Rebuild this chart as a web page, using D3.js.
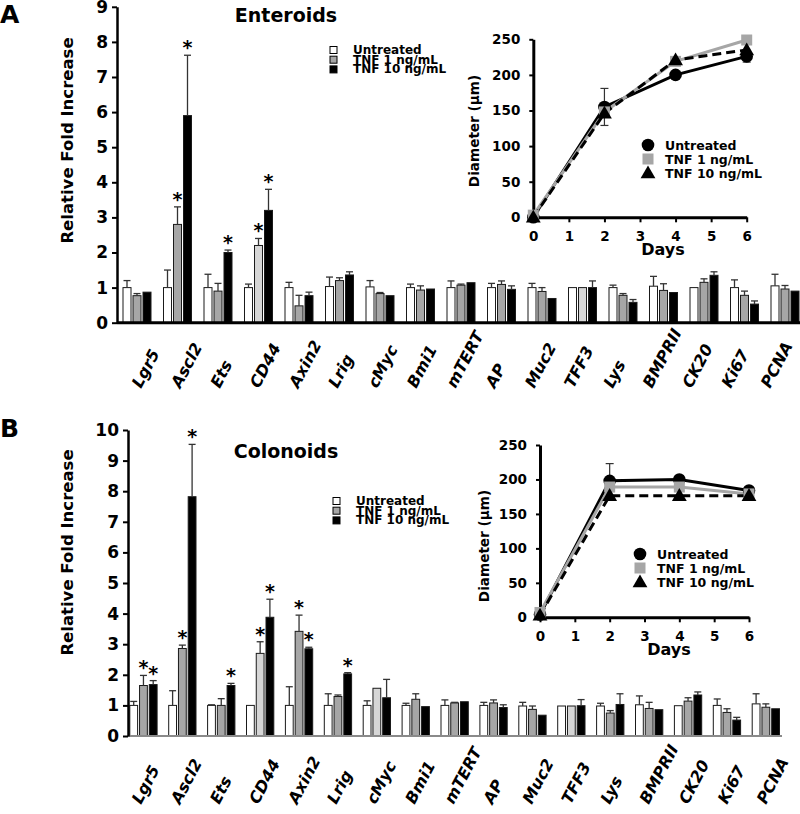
<!DOCTYPE html>
<html><head><meta charset="utf-8">
<script src="https://cdn.jsdelivr.net/npm/d3@7"></script>
<style>
body{margin:0;background:#fff;}
svg{display:block;font-family:"DejaVu Sans",sans-serif;font-weight:bold;}
</style></head><body>
<svg id="c" width="800" height="814"></svg>
<script>
// ---------- data ----------
const genes = ["Lgr5","Ascl2","Ets","CD44","Axin2","Lrig","cMyc","Bmi1","mTERT","AP","Muc2","TFF3","Lys","BMPRII","CK20","Ki67","PCNA"];
const seriesNames = ["Untreated","TNF 1 ng/mL","TNF 10 ng/mL"];
const yTicksEnt = [0,1,2,3,4,5,6,7,8,9];
const yTicksCol = [0,1,2,3,4,5,6,7,8,9,10];

// Enteroids (relative fold increase, bar value and top of error bar)
const entUntreated    = [1.0,1.0,1.0,1.0,1.0,1.03,1.02,1.0,1.0,1.0,1.0,1.0,1.0,1.04,1.0,1.0,1.05];
const entUntreatedErr = [1.2,1.5,1.38,1.1,1.15,1.3,1.2,1.1,1.19,1.12,1.12,null,1.07,1.32,null,1.22,1.38];
const entTnf1         = [0.77,2.8,0.9,2.2,0.48,1.2,0.83,0.93,1.07,1.09,0.89,1.0,0.78,0.92,1.15,0.78,0.96];
const entTnf1Err      = [0.83,3.3,1.12,2.4,0.78,1.28,0.86,1.05,1.1,1.19,1.0,null,0.83,1.11,1.25,0.9,1.06];
const entTnf10        = [0.87,5.9,2.0,3.2,0.77,1.36,0.77,0.96,1.14,0.95,0.69,1.0,0.58,0.86,1.35,0.53,0.9];
const entTnf10Err     = [null,7.62,2.07,3.8,0.87,1.45,null,null,null,1.05,null,1.19,0.66,null,1.45,0.62,null];
const entStarsTnf1    = ["Ascl2","CD44"];
const entStarsTnf10   = ["Ascl2","Ets","CD44"];

// Colonoids
const colUntreated    = [1.0,1.0,1.0,1.0,1.0,1.0,1.0,1.0,1.0,1.0,0.98,0.98,0.98,1.02,0.99,1.0,1.05];
const colUntreatedErr = [1.13,1.48,1.02,null,1.61,1.38,1.15,1.07,1.18,1.1,1.1,null,1.07,1.31,null,1.21,1.38];
const colTnf1         = [1.65,2.86,1.0,2.7,3.42,1.29,1.56,1.2,1.08,1.08,0.87,0.98,0.75,0.9,1.14,0.77,0.94];
const colTnf1Err      = [1.98,2.97,1.22,3.08,3.95,1.34,null,1.38,1.1,1.18,0.98,null,0.83,1.1,1.25,0.89,1.05];
const colTnf10        = [1.68,7.82,1.65,3.88,2.85,2.03,1.25,0.96,1.12,0.93,0.68,0.99,1.03,0.86,1.34,0.52,0.89];
const colTnf10Err     = [1.81,9.53,1.72,4.47,2.9,2.07,1.85,null,null,1.02,null,1.19,1.38,null,1.44,0.61,null];
const colStarsTnf1    = ["Lgr5","Ascl2","CD44","Axin2"];
const colStarsTnf10   = ["Lgr5","Ascl2","Ets","CD44","Axin2","Lrig"];

// Insets: diameter (µm) over days
const days = [0,2,4,6];
const dayTicks = [0,1,2,3,4,5,6];
const diamTicks = [0,50,100,150,200,250];
const entDiamUntreated    = [0,155,200,226];
const entDiamUntreatedErr = [0,26,0,8];
const entDiamTnf1         = [3,148,219,249];
const entDiamTnf10        = [0,146,221,235];
const colDiamUntreated    = [4,198,200,184];
const colDiamUntreatedErr = [0,25,0,5];
const colDiamTnf1         = [7,189,189,179];
const colDiamTnf10        = [3,176.5,176.5,176.5];

// ---------- drawing ----------
const svg = d3.select("#c");
const barFills = ["#ffffff","#a6a6a6","#000000"];
const lightGrey = "#d6d6d6";

function barPanel(cfg){
  const g = svg.append("g");
  const x0 = d3.scaleBand().domain(genes).range(cfg.xRange);
  const x1 = d3.scaleBand().domain(seriesNames)
    .range([(x0.step()-cfg.groupW)/2,(x0.step()+cfg.groupW)/2]).paddingInner(0.2);
  const y = d3.scaleLinear().domain([0,cfg.yMax]).range([cfg.y0,cfg.yTop]);
  const xl = d3.scalePoint().domain(genes).range(cfg.labelRange);

  cfg.series.forEach((s,si)=>{
    genes.forEach((gn,i)=>{
      const v = s.vals[i];
      const bx = x0(gn)+x1(seriesNames[si]);
      let fill = barFills[si];
      if(si===1 && cfg.light.includes(gn)) fill = lightGrey;
      g.append("rect").attr("x",bx).attr("y",y(v)).attr("width",x1.bandwidth())
        .attr("height",y(0)-y(v)).attr("fill",fill).attr("stroke","#1a1a1a").attr("stroke-width",1);
    });
  });
  cfg.series.forEach((s,si)=>{
    genes.forEach((gn,i)=>{
      const v = s.vals[i], e = s.err[i];
      const cx = x0(gn)+x1(seriesNames[si])+x1.bandwidth()/2;
      if(e!=null){
        g.append("line").attr("x1",cx).attr("x2",cx).attr("y1",y(v)).attr("y2",y(e))
          .attr("stroke","#333").attr("stroke-width",1.3);
        g.append("line").attr("x1",cx-3.5).attr("x2",cx+3.5).attr("y1",y(e)).attr("y2",y(e))
          .attr("stroke","#333").attr("stroke-width",1.3);
      }
      if(s.stars.includes(gn)){
        g.append("text").attr("x",cx).attr("y",y(e!=null?e:v)-1)
          .attr("text-anchor","middle").attr("font-size",19).text("*");
      }
    });
  });

  // x axis line
  g.append("line").attr("x1",cfg.axisX).attr("x2",cfg.xAxisEnd).attr("y1",y(0)).attr("y2",y(0))
    .attr("stroke",cfg.xAxisColor).attr("stroke-width",cfg.xAxisW);
  // y axis
  const ya = g.append("g").attr("transform",`translate(${cfg.axisX},0)`)
    .call(d3.axisLeft(y).tickValues(cfg.yTicks).tickSize(5).tickSizeOuter(0).tickPadding(4));
  ya.select(".domain").attr("stroke","#000").attr("stroke-width",2.5);
  ya.selectAll(".tick line").attr("stroke","#000").attr("stroke-width",2);
  ya.selectAll(".tick text").attr("font-size",17).attr("font-family","DejaVu Sans").attr("font-weight","bold").attr("fill","#000");

  // gene labels
  genes.forEach(gn=>{
    g.append("text").attr("transform",`translate(${xl(gn)},${cfg.labelY}) rotate(-62)`)
      .attr("text-anchor","start").attr("font-size",16).attr("font-style","italic").text(gn);
  });

  // y title
  g.append("text").attr("transform",`translate(${cfg.yTitleX},${cfg.yTitleY}) rotate(-90)`)
    .attr("text-anchor","middle").attr("dominant-baseline","central").attr("font-size",16.5)
    .text("Relative Fold Increase");
  // title
  g.append("text").attr("x",286).attr("y",cfg.titleY).attr("text-anchor","middle")
    .attr("font-size",19).text(cfg.title);
  // panel letter
  g.append("text").attr("x",0).attr("y",cfg.letterY).attr("font-size",25).text(cfg.letter);

  // legend
  seriesNames.forEach((nm,i)=>{
    const cy = cfg.legY + i*9.7;
    g.append("rect").attr("x",cfg.legX).attr("y",cy-3.5).attr("width",7).attr("height",7)
      .attr("fill",barFills[i]).attr("stroke","#000").attr("stroke-width",1);
    g.append("text").attr("x",cfg.legX+23).attr("y",cy).attr("dominant-baseline","central")
      .attr("font-size",12).text(nm);
  });
}

function inset(cfg){
  const g = svg.append("g");
  const x = d3.scaleLinear().domain([0,6]).range(cfg.xRange);
  const y = d3.scaleLinear().domain([0,250]).range(cfg.yRange);
  const line = d3.line().x((d,i)=>x(days[i])).y(d=>y(d));

  // axes
  const xa = g.append("g").attr("transform",`translate(0,${y(0)})`)
    .call(d3.axisBottom(x).tickValues(dayTicks).tickFormat(d3.format("d")).tickSize(5).tickSizeOuter(0).tickPadding(9));
  xa.select(".domain").attr("stroke","#000").attr("stroke-width",3);
  xa.selectAll(".tick line").attr("stroke","#000").attr("stroke-width",2);
  xa.selectAll(".tick text").attr("font-size",13.5).attr("font-family","DejaVu Sans").attr("font-weight","bold").attr("fill","#000");
  const ya = g.append("g").attr("transform",`translate(${x(0)},0)`)
    .call(d3.axisLeft(y).tickValues(diamTicks).tickFormat(d3.format("d")).tickSize(4).tickSizeOuter(0).tickPadding(9));
  ya.select(".domain").attr("stroke","#000").attr("stroke-width",3);
  ya.selectAll(".tick line").attr("stroke","#000").attr("stroke-width",2);
  ya.selectAll(".tick text").attr("font-size",13.5).attr("font-family","DejaVu Sans").attr("font-weight","bold").attr("fill","#000");

  // error bars (untreated)
  cfg.untreatedErr.forEach((e,i)=>{
    if(!e) return;
    const cx = x(days[i]), v = cfg.untreated[i];
    g.append("line").attr("x1",cx).attr("x2",cx).attr("y1",y(v-e)).attr("y2",y(v+e)).attr("stroke","#333").attr("stroke-width",1.2);
    [v-e,v+e].forEach(t=>g.append("line").attr("x1",cx-4).attr("x2",cx+4).attr("y1",y(t)).attr("y2",y(t)).attr("stroke","#333").attr("stroke-width",1.2));
  });

  g.append("path").attr("d",line(cfg.untreated)).attr("fill","none").attr("stroke","#000").attr("stroke-width",3);
  g.append("path").attr("d",line(cfg.tnf1)).attr("fill","none").attr("stroke","#a6a6a6").attr("stroke-width",3);
  g.append("path").attr("d",line(cfg.tnf10)).attr("fill","none").attr("stroke","#000").attr("stroke-width",3).attr("stroke-dasharray","9,5");

  const tri = d3.symbol(d3.symbolTriangle,95);
  cfg.untreated.forEach((v,i)=>g.append("circle").attr("cx",x(days[i])).attr("cy",y(v)).attr("r",6.3).attr("fill","#000"));
  cfg.tnf1.forEach((v,i)=>g.append("rect").attr("x",x(days[i])-5.5).attr("y",y(v)-5.5).attr("width",11).attr("height",11).attr("fill","#a6a6a6"));
  cfg.tnf10.forEach((v,i)=>g.append("path").attr("d",tri()).attr("transform",`translate(${x(days[i])},${y(v)+1})`).attr("fill","#000"));

  // titles
  g.append("text").attr("x",cfg.daysX).attr("y",y(0)+38).attr("text-anchor","middle").attr("font-size",16).text("Days");
  g.append("text").attr("transform",`translate(${cfg.yTitleX},${cfg.yTitleY}) rotate(-90)`)
    .attr("text-anchor","middle").attr("dominant-baseline","central").attr("font-size",13.6).text("Diameter (µm)");

  // legend
  const lx = cfg.legX, ly = cfg.legY;
  g.append("circle").attr("cx",lx).attr("cy",ly).attr("r",6.3).attr("fill","#000");
  g.append("rect").attr("x",lx-5.5).attr("y",ly+14-5.5).attr("width",11).attr("height",11).attr("fill","#a6a6a6");
  g.append("path").attr("d",tri()).attr("transform",`translate(${lx},${ly+28+1})`).attr("fill","#000");
  seriesNames.forEach((nm,i)=>{
    g.append("text").attr("x",lx+17).attr("y",ly+i*14).attr("dominant-baseline","central").attr("font-size",12.5).text(nm);
  });
}

barPanel({
  xRange:[116.75,805.25], groupW:28, yMax:9, y0:322.7, yTop:322.7-9*35.1, yTicks:yTicksEnt,
  axisX:117, xAxisEnd:800, xAxisColor:"#000", xAxisW:3,
  labelRange:[141,770], labelY:389, yTitleX:67.5, yTitleY:140.5, title:"Enteroids", titleY:22,
  letter:"A", letterY:23, legX:330, legY:50, light:["CD44","TFF3"],
  series:[
    {vals:entUntreated, err:entUntreatedErr, stars:[]},
    {vals:entTnf1, err:entTnf1Err, stars:entStarsTnf1},
    {vals:entTnf10, err:entTnf10Err, stars:entStarsTnf10}
  ]
});
barPanel({
  xRange:[124,124+17*38.9], groupW:27.3, yMax:10, y0:736, yTop:430, yTicks:yTicksCol,
  axisX:128, xAxisEnd:782, xAxisColor:"#8a8a8a", xAxisW:2,
  labelRange:[141,766], labelY:805, yTitleX:67.5, yTitleY:552.5, title:"Colonoids", titleY:458,
  letter:"B", letterY:437, legX:333, legY:501, light:["CD44","cMyc","TFF3"],
  series:[
    {vals:colUntreated, err:colUntreatedErr, stars:[]},
    {vals:colTnf1, err:colTnf1Err, stars:colStarsTnf1},
    {vals:colTnf10, err:colTnf10Err, stars:colStarsTnf10}
  ]
});
inset({xRange:[533.3,746.7], yRange:[217.3,39.3], untreated:entDiamUntreated, untreatedErr:entDiamUntreatedErr,
  tnf1:entDiamTnf1, tnf10:entDiamTnf10, daysX:663, yTitleX:474, yTitleY:131, legX:648, legY:145});
inset({xRange:[540,749], yRange:[617.3,445], untreated:colDiamUntreated, untreatedErr:colDiamUntreatedErr,
  tnf1:colDiamTnf1, tnf10:colDiamTnf10, daysX:669, yTitleX:484, yTitleY:546, legX:640, legY:554});
</script>
</body></html>
